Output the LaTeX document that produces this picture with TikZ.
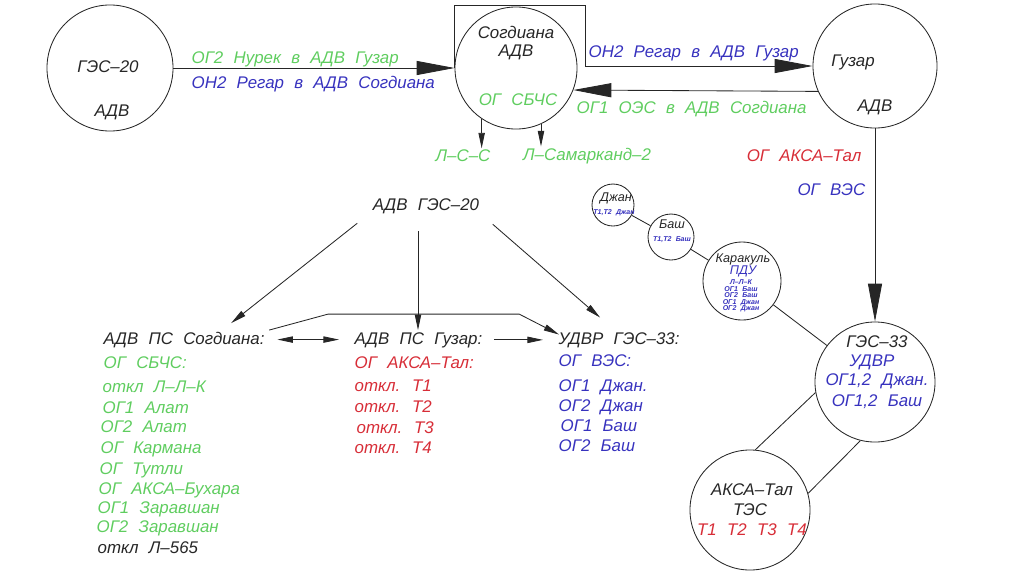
\documentclass[tikz,border=0pt]{standalone}
\usepackage{fontspec}
\setmainfont{Liberation Sans}[WordSpace=2.2]
\usetikzlibrary{arrows.meta,positioning,calc}
\definecolor{ogreen}{RGB}{95,205,95}
\definecolor{oblue}{RGB}{55,50,190}
\definecolor{ored}{RGB}{215,45,55}
\tikzstyle{station} = [circle, draw=black!85, line width=0.6pt, inner sep=0pt]
\tikzstyle{txt} = [font=\fontsize{12}{14}\selectfont\itshape, inner sep=1pt, text=black!85]
\tikzstyle{small} = [font=\fontsize{9}{10}\selectfont\itshape, inner sep=0pt, text=black!85]
\tikzstyle{tiny} = [font=\fontsize{5}{4.6}\selectfont\itshape\bfseries, inner sep=0pt, text=oblue, align=center]
\tikzstyle{bigarrow} = [line width=0.6pt, draw=black!85, -{Triangle[length=27pt, width=10pt]}]
\tikzstyle{arrow} = [line width=0.6pt, draw=black!85, -{Triangle[length=11pt, width=4.5pt]}]
\tikzstyle{dblarrow} = [line width=0.6pt, draw=black!85, {Triangle[length=11pt, width=4.5pt]}-{Triangle[length=11pt, width=4.5pt]}]

\begin{document}
\begin{tikzpicture}[x=0.025cm, y=-0.025cm]
  \useasboundingbox (0,0) rectangle (1024,574);
  % stations
  \node (ges20)[station, minimum size=3.15cm] at (110,68) {};
  \node (sogd)[station, minimum size=3.05cm] at (516,68) {};
  \node (guzar)[station, minimum size=3.1cm] at (875,66) {};
  \node (ges33)[station, minimum size=3cm] at (875,382) {};
  \node (aksa)[station, minimum size=3cm] at (750,510) {};
  \node (dzhan)[station, minimum size=1.05cm] at (613,205) {};
  \node (bash)[station, minimum size=1.15cm] at (671,237) {};
  \node (karak)[station, minimum size=1.95cm] at (742,281) {};

  % texts in stations
  \node (ges20a)[txt] at (108,67) {ГЭС–20};
  \node (ges20b)[txt] at (112,112) {АДВ};
  \node (sogda)[txt] at (516,32) {Согдиана};
  \node (sogdb)[txt] at (516,52) {АДВ};
  \node (sogdc)[txt, text=ogreen] at (518,100) {ОГ СБЧС};
  \node (guzara)[txt] at (853,62) {Гузар};
  \node (guzarb)[txt] at (875,107) {АДВ};
  \node (ges33a)[txt] at (877,342) {ГЭС–33};
  \node (ges33b)[txt, text=oblue] at (872,362) {УДВР};
  \node (ges33c)[txt, text=oblue] at (877,381) {ОГ1,2 Джан.};
  \node (ges33d)[txt, text=oblue] at (877,402) {ОГ1,2 Баш};
  \node (aksaa)[txt] at (752,490) {АКСА–Тал};
  \node (aksab)[txt] at (750,510) {ТЭС};
  \node (aksac)[txt, text=ored] at (752,530) {Т1 Т2 Т3 Т4};
  \node (dzhana)[small] at (616,198) {Джан};
  \node (dzhanb)[tiny] at (614,213) {Т1,Т2 Джан};
  \node (basha)[small] at (672,224) {Баш};
  \node (bashb)[tiny] at (672,240) {Т1,Т2 Баш};
  \node (karaka)[small] at (743,259) {Каракуль};
  \node (karakb)[small, text=oblue] at (743,271) {ПДУ};
  \node (karakc)[tiny] at (741,296) {Л–Л–К\\ОГ1 Баш\\ОГ2 Баш\\ОГ1 Джан\\ОГ2 Джан};

  % top links
  \draw[bigarrow] (ges20.east) -- (sogd.west);
  \coordinate (boxne) at (585,5);
  \draw[bigarrow] (sogd.west) |- (boxne) |- (guzar.west);
  \draw[bigarrow] (guzar.204) -- (sogd.-21);
  \node (l1)[txt, text=ogreen, anchor=base west] at (190,63) {ОГ2 Нурек в АДВ Гузар};
  \node (l2)[txt, text=oblue, anchor=base west] at (190,88) {ОН2 Регар в АДВ Согдиана};
  \node (l3)[txt, text=oblue, anchor=base west] at (587,57) {ОН2 Регар в АДВ Гузар};
  \node (l4)[txt, text=ogreen, anchor=base west] at (575,113) {ОГ1 ОЭС в АДВ Согдиана};
  \node (lss)[txt, text=ogreen] at (463,156) {Л–С–С};
  \node (lsam)[txt, text=ogreen] at (587,156) {Л–Самарканд–2};
  \draw[arrow] (sogd.-124) -- (sogd.-124 |- lss.north);
  \draw[arrow] (sogd.-66) -- (sogd.-66 |- lsam.north);

  % right side
  \draw[bigarrow] (guzar.south) -- (ges33.north);
  \node (l5)[txt, text=ored, anchor=base east] at (863,161) {ОГ АКСА–Тал};
  \node (l6)[txt, text=oblue, anchor=base east] at (867,195) {ОГ ВЭС};
  \draw[line width=0.6pt, black!85] (dzhan) -- (bash);
  \draw[line width=0.6pt, black!85] (bash) -- (karak);
  \draw[line width=0.6pt, black!85] (karak) -- (ges33);
  \draw[line width=0.6pt, black!85] (ges33.190) -- (aksa.85);
  \draw[line width=0.6pt, black!85] (ges33.256) -- (aksa.16);

  % middle part
  \node (adv20)[txt] at (426,206) {АДВ ГЭС–20};
  \node (sogdps)[txt, anchor=base west] at (102,344) {АДВ ПС Согдиана:};
  \node (guzps)[txt, anchor=base west] at (353,344) {АДВ ПС Гузар:};
  \node (udvr)[txt, anchor=base west, text=black!85] at (557,344) {УДВР ГЭС–33:};
  \draw[arrow] ([shift={(-14,8)}]adv20.south west) -- ([shift={(-35,-7)}]sogdps.north east);
  \draw[arrow] ([shift={(12,9)}]adv20.south east) -- ([shift={(-19,-13)}]udvr.north);
  \draw[arrow] ([shift={(3,0)}]sogdps.north east) -- ++(59,-16) coordinate (barl) -- ++(191,0) coordinate (barr) -- ([shift={(2,4)}]udvr.north west);
  \draw[arrow] ([shift={(-8,16)}]adv20.south) -- ([shift={(-8,16)}]adv20.south |- barl);
  \draw[dblarrow, shorten <=8pt, shorten >=10pt] (sogdps.east) -- (sogdps.east -| guzps.west);
  \draw[arrow, shorten <=7pt, shorten >=10pt] (guzps.east) -- (guzps.east -| udvr.west);

  % lists
  \foreach \x/\y/\t [count=\i] in {102/368/ОГ СБЧС:, 101/392/откл Л–Л–К, 101/413/ОГ1 Алат,
      99/432/ОГ2 Алат, 99/453/ОГ Кармана, 98/474/ОГ Тутли, 97/494/ОГ АКСА–Бухара,
      96/513/ОГ1 Заравшан, 95/532/ОГ2 Заравшан}
    \node (sg\i)[txt, text=ogreen, anchor=base west] at (\x,\y) {\t};
  \node (sg10)[txt, anchor=base west] at (96,553) {откл Л–565};
  \foreach \x/\y/\t [count=\i] in {353/368/ОГ АКСА–Тал:, 353/391/откл. Т1, 353/412/откл. Т2,
      355/433/откл. Т3, 353/453/откл. Т4}
    \node (gz\i)[txt, text=ored, anchor=base west] at (\x,\y) {\t};
  \foreach \x/\y/\t [count=\i] in {557/366/ОГ ВЭС:, 557/391/ОГ1 Джан., 557/411/ОГ2 Джан,
      559/431/ОГ1 Баш, 557/451/ОГ2 Баш}
    \node (ud\i)[txt, text=oblue, anchor=base west] at (\x,\y) {\t};
\end{tikzpicture}
\end{document}
